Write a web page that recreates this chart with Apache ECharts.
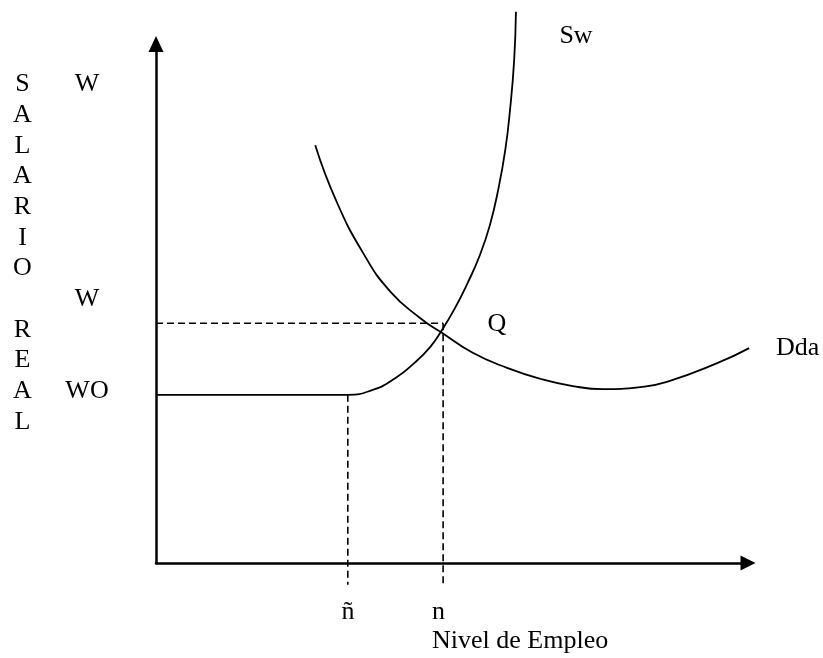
<!DOCTYPE html>
<html lang="es">
<head>
<meta charset="UTF-8"/>
<title>Salario real y nivel de empleo</title>
<script src="https://cdn.jsdelivr.net/npm/echarts@6/dist/echarts.min.js"></script>
<style>
  html, body { margin: 0; padding: 0; background: #fff; }
  #main { width: 823px; height: 658px; }
</style>
</head>
<body>
<div id="main"></div>
<script type="text/javascript">
// curva de oferta Sw: [empleo, salario]
var supplyPts = [
  [0, 32.4], [15.9, 32.4], [32.4, 32.4], [36.5, 33.3], [40.4, 35.6], [43.8, 38.7],
  [46.3, 41.6], [48.1, 44.5], [50.5, 49.1], [52.7, 54.1], [54.7, 59.3],
  [56.4, 65.1], [57.8, 71.9], [59.0, 79.6], [59.8, 87.3], [60.5, 96.9], [60.8, 106.2]
];
// curva de demanda Dda
var demandPts = [
  [26.9, 80.5], [30.4, 69.9], [35.0, 59.7], [39.5, 52.4], [44.6, 47.2],
  [48.1, 44.5], [53.5, 40.5], [59.3, 37.6], [64.9, 35.5], [70.4, 34.1],
  [75.5, 33.5], [81.8, 33.9], [86.3, 34.9], [94.8, 38.5], [100.2, 41.4]
];
// referencias punteadas
var wLevel = 46.2;      // W
var nLevel = 48.5;      // n
var nTilde = 32.4;      // ñ
var woLevel = 32.4;     // WO
var belowAxis = -4.2;

var dashH = [[0, wLevel], [nLevel, wLevel]];
var dashN = [[nLevel, wLevel], [nLevel, belowAxis]];
var dashNt = [[nTilde, woLevel], [nTilde, belowAxis]];

var myChart = echarts.init(document.getElementById('main'));

var serif = '"Liberation Serif", "Times New Roman", serif';
var txt = function (s, x, y, align) {
  return {
    type: 'text', x: x, y: y, silent: true,
    style: { text: s, font: '26px ' + serif, fill: '#000', align: align || 'center', verticalAlign: 'middle' }
  };
};

var curve = { color: '#000', width: 1.8 };
var dash = { color: '#000', width: 1.6, type: [7, 4] };

var option = {
  animation: false,
  backgroundColor: '#fff',
  grid: { left: 156, top: 44, width: 592, height: 519 },
  xAxis: {
    type: 'value', min: 0, max: 100,
    axisLine: { show: true, symbol: ['none', 'triangle'], symbolSize: [15, 15], lineStyle: { color: '#000', width: 2.5 } },
    axisTick: { show: false }, axisLabel: { show: false }, splitLine: { show: false }
  },
  yAxis: {
    type: 'value', min: 0, max: 100,
    axisLine: { show: true, symbol: ['none', 'triangle'], symbolSize: [15, 16], lineStyle: { color: '#000', width: 2.5 } },
    axisTick: { show: false }, axisLabel: { show: false }, splitLine: { show: false }
  },
  series: [
    { name: 'Sw', type: 'line', data: supplyPts, smooth: 0.5, showSymbol: false, clip: false, lineStyle: curve },
    { name: 'Dda', type: 'line', data: demandPts, smooth: 0.5, showSymbol: false, clip: false, lineStyle: curve },
    { type: 'line', data: dashH, showSymbol: false, clip: false, lineStyle: dash },
    { type: 'line', data: dashN, showSymbol: false, clip: false, lineStyle: dash },
    { type: 'line', data: dashNt, showSymbol: false, clip: false, lineStyle: dash }
  ],
  graphic: [
    {
      type: 'text', x: 22.5, y: 69, silent: true,
      style: { text: 'S\nA\nL\nA\nR\nI\nO\n\nR\nE\nA\nL', font: '26px ' + serif, fill: '#000',
               align: 'center', verticalAlign: 'top', lineHeight: 30.7 }
    },
    txt('W', 87, 84),
    txt('W', 87, 299),
    txt('WO', 87, 391),
    txt('Sw', 576, 36),
    txt('Q', 497, 324),
    txt('Dda', 776, 348, 'left'),
    txt('ñ', 348, 612),
    txt('n', 432, 612, 'left'),
    txt('Nivel de Empleo', 432, 641, 'left')
  ]
};

myChart.setOption(option);
</script>
</body>
</html>
